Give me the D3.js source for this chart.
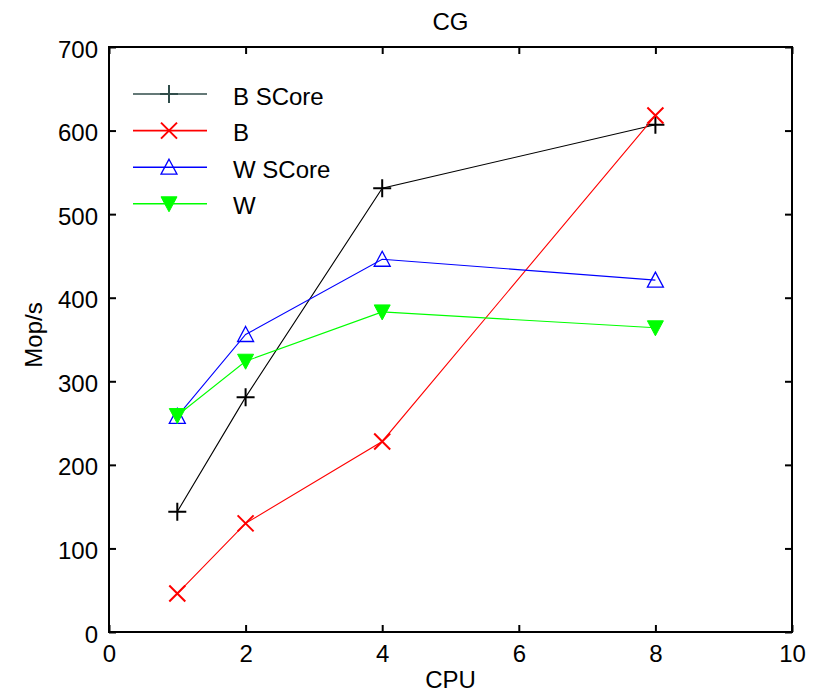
<html lang="en">
<head>
<meta charset="UTF-8">
<title>CG</title>
<style>
  body { margin: 0; background: #fff; }
  svg { display: block; font-family: "Liberation Sans", Arial, sans-serif; }
  .tick text { font-size: 24px; fill: #000; }
</style>
</head>
<body>
<svg id="chart"></svg>
<script src="https://cdnjs.cloudflare.com/ajax/libs/d3/7.8.5/d3.min.js"></script>
<script>
// CPU counts and measured Mop/s per series
var cpus = [1, 2, 4, 8];
var bScore = [144, 281, 531, 607];
var bPlain = [46, 130, 228, 618];
var wScore = [258, 356, 446, 421];
var wPlain = [259, 324, 383, 364];
var xTicks = [0, 2, 4, 6, 8, 10];
var yTicks = [0, 100, 200, 300, 400, 500, 600, 700];

var series = [
  { name: "B SCore", values: bScore, color: "#000", legendColor: "#304d4a", marker: "plus" },
  { name: "B", values: bPlain, color: "#ff0000", legendColor: "#ff0000", marker: "cross" },
  { name: "W SCore", values: wScore, color: "#0000ff", legendColor: "#0000ff", marker: "triUp" },
  { name: "W", values: wPlain, color: "#00ff00", legendColor: "#00ff00", marker: "triDown" }
];

var width = 818, height = 694;
var margin = { top: 47, right: 26, bottom: 62, left: 109 };
var w = width - margin.left - margin.right,
    h = height - margin.top - margin.bottom;

var svg = d3.select("#chart").attr("width", width).attr("height", height);
var g = svg.append("g").attr("transform", "translate(" + margin.left + "," + margin.top + ")");

var x = d3.scaleLinear().domain([0, 10]).range([0, w]);
var y = d3.scaleLinear().domain([0, 700]).range([h, 0]);

// axes, ticks pointing inward on all four sides
function styleAxis(sel) {
  sel.select(".domain").remove();
  sel.selectAll(".tick line").attr("stroke", "#000").attr("stroke-width", 2);
}
g.append("g").attr("transform", "translate(0," + h + ")")
  .call(d3.axisBottom(x).tickValues(xTicks).tickSize(-7).tickPadding(13))
  .call(styleAxis);
g.append("g")
  .call(d3.axisTop(x).tickValues(xTicks).tickSize(-7).tickFormat(""))
  .call(styleAxis);
g.append("g")
  .call(d3.axisLeft(y).tickValues(yTicks).tickSize(-7).tickPadding(11))
  .call(styleAxis);
g.append("g").attr("transform", "translate(" + w + ",0)")
  .call(d3.axisRight(y).tickValues(yTicks).tickSize(-7).tickFormat(""))
  .call(styleAxis);
g.selectAll(".tick text").attr("font-family", null).attr("font-size", null);
g.selectAll("g.tick text").filter(function () { return d3.select(this).attr("x") !== null && +d3.select(this).attr("x") < 0; })
  .attr("dy", "0.42em");

g.append("rect")
  .attr("width", w).attr("height", h)
  .attr("fill", "none").attr("stroke", "#000").attr("stroke-width", 2);

// markers
function drawMarker(sel, type, color) {
  if (type === "plus") {
    sel.append("path").attr("d", "M-9,0H9M0,-9V9")
      .attr("stroke", color).attr("stroke-width", 2).attr("fill", "none");
  } else if (type === "cross") {
    sel.append("path").attr("d", "M-8,-8L8,8M-8,8L8,-8")
      .attr("stroke", color).attr("stroke-width", 2).attr("fill", "none");
  } else if (type === "triUp") {
    sel.append("path").attr("d", "M0,-8L8,7H-8Z")
      .attr("stroke", color).attr("stroke-width", 1.3).attr("fill", "none");
  } else {
    sel.append("path").attr("d", "M-8,-7H8L0,8Z")
      .attr("fill", color).attr("stroke", color).attr("stroke-width", 1);
  }
}

var line = d3.line()
  .x(function (d, i) { return x(cpus[i]); })
  .y(function (d) { return y(d); });

series.forEach(function (s) {
  g.append("path").attr("d", line(s.values))
    .attr("fill", "none").attr("stroke", s.color).attr("stroke-width", 1.1);
  s.values.forEach(function (v, i) {
    var m = g.append("g").attr("transform", "translate(" + x(cpus[i]) + "," + y(v) + ")");
    drawMarker(m, s.marker, s.color);
  });
});

// legend
var legend = svg.append("g").attr("transform", "translate(133,94)");
series.forEach(function (s, i) {
  var row = legend.append("g").attr("transform", "translate(0," + (i * 36.6) + ")");
  row.append("line").attr("x1", 0).attr("x2", 74)
    .attr("stroke", s.legendColor).attr("stroke-width", 1.6);
  drawMarker(row.append("g").attr("transform", "translate(36,0)"), s.marker, s.legendColor);
  row.append("text").attr("x", 100).attr("dy", "0.44em")
    .attr("font-size", 24).text(s.name);
});

// title and axis labels
svg.append("text").attr("x", margin.left + w / 2).attr("y", 30)
  .attr("text-anchor", "middle").attr("font-size", 24).text("CG");
svg.append("text").attr("x", margin.left + w / 2).attr("y", 688)
  .attr("text-anchor", "middle").attr("font-size", 24).text("CPU");
svg.append("text")
  .attr("transform", "translate(42,335) rotate(-90)")
  .attr("text-anchor", "middle").attr("font-size", 24).text("Mop/s");
</script>
</body>
</html>
